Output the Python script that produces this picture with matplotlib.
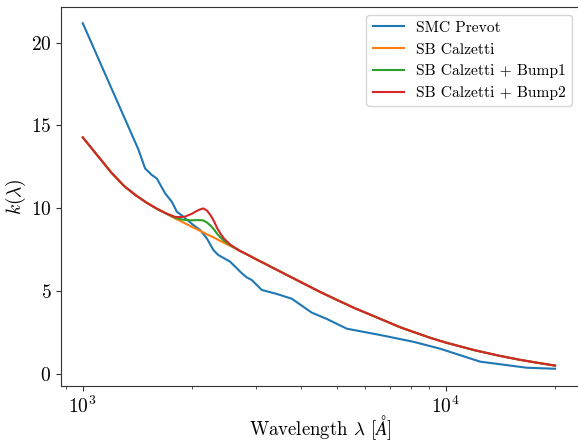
import matplotlib
matplotlib.use('Agg')
import matplotlib.pyplot as plt

# attenuation curves k(lambda), wavelengths in Angstrom
wave_smc = [1000, 1423, 1485, 1549, 1599, 1686, 1759, 1816, 1893, 2017,
            2105, 2196, 2290, 2363, 2546, 2742, 2830, 2921, 3113, 3423,
            3765, 4274, 4700, 5338, 6592, 8142, 9646, 12430, 16720, 20000]
k_smc = [21.18, 13.55, 12.40, 12.01, 11.80, 10.90, 10.39, 9.79, 9.49, 8.98,
         8.68, 8.18, 7.47, 7.17, 6.77, 6.07, 5.82, 5.66, 5.06, 4.82,
         4.53, 3.69, 3.31, 2.72, 2.34, 1.93, 1.51, 0.73, 0.36, 0.30]

wave_sb = [1000, 1200, 1300, 1400, 1500, 1600, 1700, 1800, 1900, 2000,
           2050, 2100, 2150, 2200, 2250, 2300, 2350, 2400, 2450, 2550,
           2700, 2850, 3000, 3200, 3600, 4000, 4500, 5000, 5600, 6300,
           7500, 9000, 10000, 12000, 14000, 16000, 18000, 20000]
k_calz = [14.28, 12.14, 11.34, 10.78, 10.33, 9.97, 9.66, 9.37, 9.12, 8.87,
          8.76, 8.64, 8.54, 8.42, 8.32, 8.22, 8.11, 8.01, 7.91, 7.72,
          7.44, 7.18, 6.92, 6.61, 6.03, 5.52, 4.95, 4.47, 3.97, 3.50,
          2.80, 2.19, 1.88, 1.42, 1.09, 0.84, 0.65, 0.49]
k_bump1 = [14.28, 12.14, 11.34, 10.78, 10.33, 9.97, 9.67, 9.42, 9.29, 9.27,
           9.28, 9.28, 9.26, 9.13, 8.94, 8.71, 8.43, 8.22, 8.03, 7.76,
           7.44, 7.18, 6.92, 6.61, 6.03, 5.52, 4.95, 4.47, 3.97, 3.50,
           2.80, 2.19, 1.88, 1.42, 1.09, 0.84, 0.65, 0.49]
k_bump2 = [14.28, 12.14, 11.34, 10.78, 10.33, 9.97, 9.68, 9.47, 9.47, 9.67,
           9.81, 9.92, 9.99, 9.85, 9.57, 9.20, 8.76, 8.43, 8.16, 7.80,
           7.44, 7.18, 6.92, 6.61, 6.03, 5.52, 4.95, 4.47, 3.97, 3.50,
           2.80, 2.19, 1.88, 1.42, 1.09, 0.84, 0.65, 0.49]

plt.rcParams['font.family'] = 'serif'
plt.rcParams['font.serif'] = ['cmr10']
plt.rcParams['mathtext.fontset'] = 'cm'
plt.rcParams['axes.formatter.use_mathtext'] = True
plt.rcParams['axes.unicode_minus'] = False

fig = plt.figure(figsize=(5.78, 4.41), dpi=100)
# right spine sits just past the figure edge
ax = fig.add_axes([61 / 578, 55.3 / 441, 519 / 578, 378.7 / 441])

ax.plot(wave_smc, k_smc, label='SMC Prevot')
ax.plot(wave_sb, k_calz, label='SB Calzetti')
ax.plot(wave_sb, k_bump1, label='SB Calzetti + Bump1')
ax.plot(wave_sb, k_bump2, label='SB Calzetti + Bump2')

ax.set_xscale('log')
ax.set_xlim(10**2.940, 10**4.3697)
ax.set_ylim(-0.725, 22.16)
ax.set_yticks([0, 5, 10, 15, 20])
ax.set_xlabel(r'Wavelength $\lambda$ $[\AA]$', fontsize=13.5, labelpad=-2.5)
ax.set_ylabel(r'$k(\lambda)$', fontsize=14, labelpad=2)
ax.tick_params(labelsize=14, colors='#333333', labelcolor='black')
ax.tick_params(which='minor', colors='#333333')
for side in ['left', 'bottom', 'top', 'right']:
    ax.spines[side].set_color('#333333')

ax.legend(loc='upper right', fontsize=11.2)

fig.savefig('out.png', dpi=100)
